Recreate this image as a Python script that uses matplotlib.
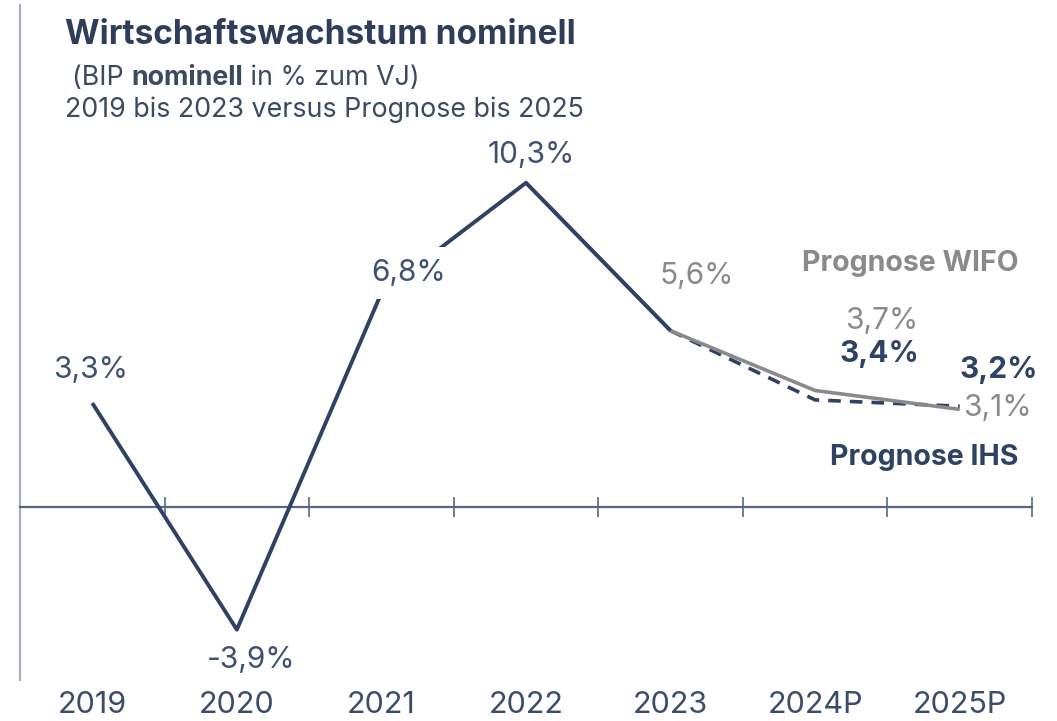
import numpy as np
import matplotlib
matplotlib.use("Agg")
import matplotlib.pyplot as plt
import matplotlib.transforms as mtransforms

# Daten
jahre = ['2019', '2020', '2021', '2022', '2023', '2024P', '2025P']
ist = [3.3, -3.9, 6.8, 10.3, 5.6]           # 2019-2023
wifo = [10.3, 5.6, 3.7, 3.1]                # 2022-2025
ihs = [5.6, 3.4, 3.2]                       # 2023-2025
ist_lbl = ['3,3%', '-3,9%', '6,8%', '10,3%', '5,6%']
wifo_lbl = ['3,7%', '3,1%']
ihs_lbl = ['3,4%', '3,2%']

navy = '#2e4264'
grau = '#8a8a8a'
txt = '#3f5070'
sub = '#3c4a60'

plt.rcParams['font.family'] = ['Inter', 'DejaVu Sans']

fig = plt.figure(figsize=(10.57, 7.21), dpi=100)
ax = fig.add_axes([20/1057, 41/721, 1012/1057, 675/721])

x = np.arange(len(jahre))
ax.plot(x[3:7], wifo, color=grau, lw=2.6, zorder=3, solid_capstyle='butt')
ax.plot(x[4:7], ihs, color=navy, lw=2.6, ls=(0, (3.5, 2.5)), zorder=2)
ax.plot(x[:5], ist, color=navy, lw=2.8, zorder=4, solid_capstyle='butt')

ax.set_xlim(-0.5, 6.5)
ax.set_ylim(-5.5, 15.95)

for s in ['top', 'right']:
    ax.spines[s].set_visible(False)
ax.spines['left'].set_color('#a7afbd')
ax.spines['left'].set_linewidth(1.6)
ax.spines['bottom'].set_position(('data', 0))
ax.spines['bottom'].set_color('#56677f')
ax.spines['bottom'].set_linewidth(1.6)
ax.set_yticks([])
ax.set_xticks(np.arange(-0.5, 7, 1))
ax.set_xticklabels([])
ax.tick_params(axis='x', direction='inout', length=14, width=1.2, color='#56677f')

# Kategorien unten
trans = mtransforms.blended_transform_factory(ax.transData, fig.transFigure)
for i, j in enumerate(jahre):
    ax.text(i, 1 - 705/721, j, transform=trans, ha='center', va='center',
            fontsize=22, color='#3c4d6a', clip_on=False)

# Datenbeschriftungen (Offsets in Pixel)
def lab(xi, yi, s, dx, dy, color, weight='normal', box=False):
    kw = {}
    if box:
        kw['bbox'] = dict(boxstyle='square,pad=0.4', fc='white', ec='none')
    ax.annotate(s, (xi, yi), xytext=(dx, dy), textcoords='offset pixels',
                ha='center', va='center', fontsize=21.5, color=color,
                fontweight=weight, zorder=5, **kw)

ist_off = [(-2, 33), (14, -30), (27, 20), (5, 28), (26, 55)]
for i, (v, s) in enumerate(zip(ist, ist_lbl)):
    c = grau if i == 4 else txt
    lab(i, v, s, *ist_off[i], c, box=(i == 2))

lab(5, wifo[2], wifo_lbl[0], 67, 69, grau)
lab(6, wifo[3], wifo_lbl[1], 38, 1, grau)
lab(5, ihs[1], ihs_lbl[0], 64, 46, navy, 'bold')
lab(6, ihs[2], ihs_lbl[1], 39, 36, navy, 'bold')

fig.text(1018/1057, 1 - 263/721, 'Prognose WIFO', ha='right', va='center',
         fontsize=20.5, fontweight='bold', color=grau)
fig.text(1018/1057, 1 - 457/721, 'Prognose IHS', ha='right', va='center',
         fontsize=20.5, fontweight='bold', color=navy)

# Titel
fig.text(65/1057, 1 - 35/721, 'Wirtschaftswachstum nominell', ha='left', va='center',
         fontsize=24, fontweight='bold', color='#2e3d5a')
t1 = fig.text(72/1057, 1 - 78/721, '(BIP ', ha='left', va='center', fontsize=19.3, color=sub)
t2 = fig.text(0, 0, 'nominell', fontsize=19.3, fontweight='bold', color=sub)
t3 = fig.text(0, 0, ' in % zum VJ)', fontsize=19.3, color=sub)
fig.canvas.draw()
r = fig.canvas.get_renderer()
bb1 = t1.get_window_extent(r)
t2.set_position((bb1.x1 / fig.bbox.width, bb1.y0 / fig.bbox.height))
t2.set_va('bottom')
bb2 = t2.get_window_extent(r)
t3.set_position((bb2.x1 / fig.bbox.width, bb1.y0 / fig.bbox.height))
t3.set_va('bottom')
fig.text(65/1057, 1 - 110/721, '2019 bis 2023 versus Prognose bis 2025', ha='left', va='center',
         fontsize=19.3, color=sub)

fig.savefig('out.png', dpi=100)
